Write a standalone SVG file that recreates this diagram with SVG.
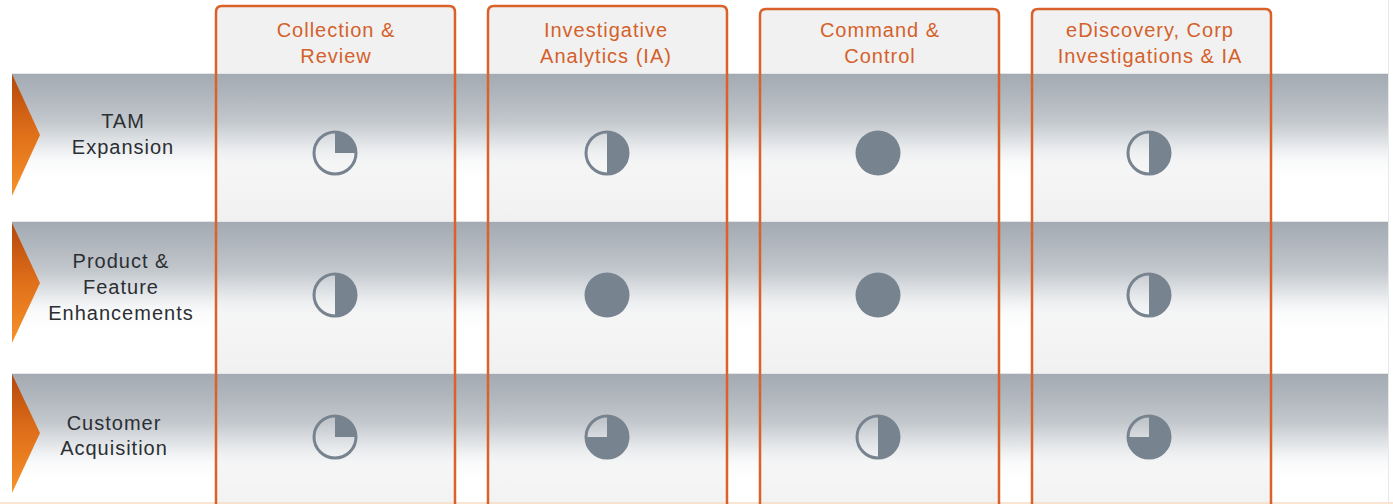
<svg xmlns="http://www.w3.org/2000/svg" width="1393" height="504" viewBox="0 0 1393 504">
  <defs>
    <linearGradient id="bandGrad" x1="0" y1="0" x2="0" y2="1">
      <stop offset="0" stop-color="#a3aab2" stop-opacity="1"/>
      <stop offset="0.15" stop-color="#b0b6bd" stop-opacity="1"/>
      <stop offset="0.33" stop-color="#c3c8cd" stop-opacity="1"/>
      <stop offset="0.48" stop-color="#e2e5e8" stop-opacity="0.95"/>
      <stop offset="0.6" stop-color="#f6f7f8" stop-opacity="0.6"/>
      <stop offset="0.75" stop-color="#ffffff" stop-opacity="0.2"/>
      <stop offset="1" stop-color="#ffffff" stop-opacity="0"/>
    </linearGradient>
    <linearGradient id="arrowGrad" x1="0" y1="0" x2="0" y2="1">
      <stop offset="0" stop-color="#b4470c"/>
      <stop offset="0.5" stop-color="#e0701a"/>
      <stop offset="1" stop-color="#f7922a"/>
    </linearGradient>
    <path id="hbQuarter" d="M0,0 V-21 A21,21 0 0 1 21,0 Z"/>
    <path id="hbHalf" d="M0,-21 A21,21 0 0 1 0,21 Z"/>
    <path id="hbThree" d="M0,0 V-21 A21,21 0 1 1 -21,0 Z"/>
    <circle id="hbRing" r="21"/>
  </defs>
  <style>
    .colfill { fill: #f1f1f1; }
    .colline { fill: none; stroke: #d9622a; stroke-width: 2.5; }
    .band { fill: url(#bandGrad); }
    .bandtop { stroke: #e4e7ea; stroke-width: 1; }
    .arrow { fill: url(#arrowGrad); }
    .ring { fill: none; stroke: #77838f; stroke-width: 3; }
    .ball { fill: #77838f; }
    .hdr { font-family: "Liberation Sans", Arial, sans-serif; font-size: 20px; letter-spacing: 1px; fill: #d4612b; text-anchor: middle; }
    .lbl { font-family: "Liberation Sans", Arial, sans-serif; font-size: 20px; letter-spacing: 1px; fill: #2b2f33; text-anchor: middle; }
  </style>

  <rect x="0" y="0" width="1393" height="504" fill="#ffffff"/>

  <!-- column backgrounds -->
  <g id="column-fills">
    <path class="colfill" d="M216,510 V12 Q216,6 222,6 H449 Q455,6 455,12 V510 Z"/>
    <path class="colfill" d="M488,510 V12 Q488,6 494,6 H721 Q727,6 727,12 V510 Z"/>
    <path class="colfill" d="M760,510 V15 Q760,9 766,9 H993 Q999,9 999,15 V510 Z"/>
    <path class="colfill" d="M1032,510 V15 Q1032,9 1038,9 H1265 Q1271,9 1271,15 V510 Z"/>
  </g>

  <!-- row bands -->
  <g id="row-tam">
    <rect class="band" x="12" y="73" width="1376" height="148"/>
    <line class="bandtop" x1="12" y1="73.5" x2="1388" y2="73.5"/>
    <polygon class="arrow" points="12,74 40,135 12,196"/>
    <text class="lbl" x="123" y="128">TAM</text>
    <text class="lbl" x="123" y="154">Expansion</text>
  </g>
  <g id="row-product">
    <rect class="band" x="12" y="221" width="1376" height="152"/>
    <line class="bandtop" x1="12" y1="221.5" x2="1388" y2="221.5"/>
    <polygon class="arrow" points="12,223 40,283 12,343"/>
    <text class="lbl" x="121" y="268">Product &amp;</text>
    <text class="lbl" x="121" y="294">Feature</text>
    <text class="lbl" x="121" y="320">Enhancements</text>
  </g>
  <g id="row-customer">
    <rect class="band" x="12" y="373" width="1376" height="150"/>
    <line class="bandtop" x1="12" y1="373.5" x2="1388" y2="373.5"/>
    <polygon class="arrow" points="12,374 40,433 12,493"/>
    <text class="lbl" x="114" y="430">Customer</text>
    <text class="lbl" x="114" y="455">Acquisition</text>
  </g>

  <line x1="0" y1="503" x2="1393" y2="503" stroke="#f9dcc4" stroke-width="1.5"/>
  <line x1="1388.5" y1="0" x2="1388.5" y2="504" stroke="#e6e8ea" stroke-width="1"/>

  <!-- columns -->
  <g id="col-collection">
    <path class="colline" d="M216,510 V12 Q216,6 222,6 H449 Q455,6 455,12 V510"/>
    <text class="hdr" x="336" y="37">Collection &amp;</text>
    <text class="hdr" x="336" y="63">Review</text>
  </g>
  <g id="col-ia">
    <path class="colline" d="M488,510 V12 Q488,6 494,6 H721 Q727,6 727,12 V510"/>
    <text class="hdr" x="606" y="37">Investigative</text>
    <text class="hdr" x="606" y="63">Analytics (IA)</text>
  </g>
  <g id="col-command">
    <path class="colline" d="M760,510 V15 Q760,9 766,9 H993 Q999,9 999,15 V510"/>
    <text class="hdr" x="880" y="37">Command &amp;</text>
    <text class="hdr" x="880" y="63">Control</text>
  </g>
  <g id="col-ediscovery">
    <path class="colline" d="M1032,510 V15 Q1032,9 1038,9 H1265 Q1271,9 1271,15 V510"/>
    <text class="hdr" x="1150" y="37">eDiscovery, Corp</text>
    <text class="hdr" x="1150" y="63">Investigations &amp; IA</text>
  </g>

  <!-- harvey balls -->
  <g id="ball-tam-collection" transform="translate(335,153)"><use href="#hbQuarter" class="ball"/><use href="#hbRing" class="ring"/></g>
  <g id="ball-tam-ia" transform="translate(607,153)"><use href="#hbHalf" class="ball"/><use href="#hbRing" class="ring"/></g>
  <g id="ball-tam-command" transform="translate(878,153)"><circle r="22.5" class="ball"/></g>
  <g id="ball-tam-ediscovery" transform="translate(1149,153)"><use href="#hbHalf" class="ball"/><use href="#hbRing" class="ring"/></g>

  <g id="ball-product-collection" transform="translate(335,295)"><use href="#hbHalf" class="ball"/><use href="#hbRing" class="ring"/></g>
  <g id="ball-product-ia" transform="translate(607,295)"><circle r="22.5" class="ball"/></g>
  <g id="ball-product-command" transform="translate(878,295)"><circle r="22.5" class="ball"/></g>
  <g id="ball-product-ediscovery" transform="translate(1149,295)"><use href="#hbHalf" class="ball"/><use href="#hbRing" class="ring"/></g>

  <g id="ball-customer-collection" transform="translate(335,437)"><use href="#hbQuarter" class="ball"/><use href="#hbRing" class="ring"/></g>
  <g id="ball-customer-ia" transform="translate(607,437)"><use href="#hbThree" class="ball"/><use href="#hbRing" class="ring"/></g>
  <g id="ball-customer-command" transform="translate(878,437)"><use href="#hbHalf" class="ball"/><use href="#hbRing" class="ring"/></g>
  <g id="ball-customer-ediscovery" transform="translate(1149,437)"><use href="#hbThree" class="ball"/><use href="#hbRing" class="ring"/></g>

  <g id="connectors"/>
</svg>
